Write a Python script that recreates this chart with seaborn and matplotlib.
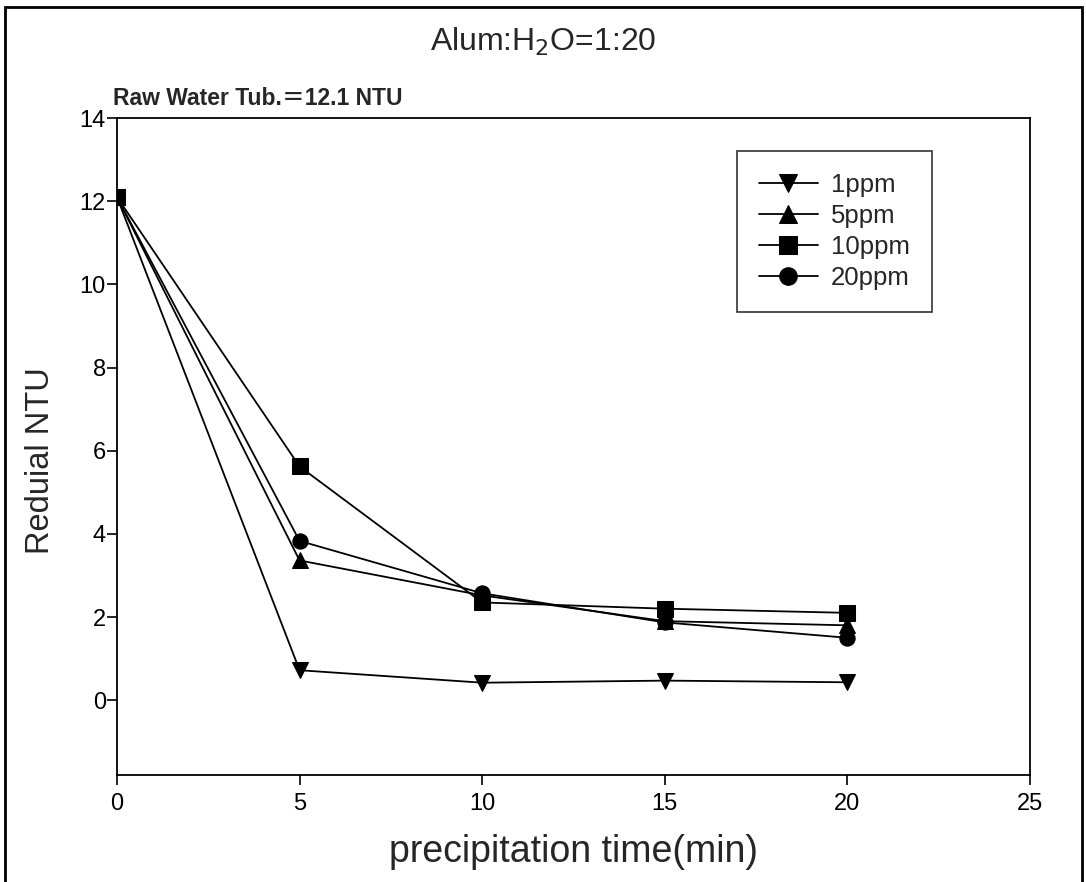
import pandas as pd
import numpy as np
import matplotlib.pyplot as plt
import matplotlib.patches as patches
import seaborn as sns

# values
times = [0, 5, 10, 15, 20]
doses = ['1ppm', '5ppm', '10ppm', '20ppm']
ntu_1ppm = [12.1, 0.72, 0.42, 0.47, 0.43]
ntu_5ppm = [12.1, 3.36, 2.52, 1.90, 1.80]
ntu_10ppm = [12.1, 5.62, 2.35, 2.20, 2.10]
ntu_20ppm = [12.1, 3.83, 2.57, 1.87, 1.50]

marker_map = {'1ppm': 'v', '5ppm': '^', '10ppm': 's', '20ppm': 'o'}


def build_frame():
    rows = []
    for dose, vals in zip(doses, [ntu_1ppm, ntu_5ppm, ntu_10ppm, ntu_20ppm]):
        for t, v in zip(times, vals):
            rows.append({'time': t, 'ntu': v, 'dose': dose})
    return pd.DataFrame(rows)


def main():
    df = build_frame()

    sns.set_style('ticks')
    plt.rcParams['font.family'] = ['Liberation Sans', 'DejaVu Sans']

    fig = plt.figure(figsize=(10.86, 8.82), dpi=100)
    ax = fig.add_axes([0.1077, 0.1213, 0.8407, 0.7449])

    sns.lineplot(data=df, x='time', y='ntu', hue='dose', style='dose',
                 hue_order=doses, style_order=doses,
                 palette=['black'] * 4, markers=marker_map, dashes=False,
                 markersize=11, markeredgecolor='black', linewidth=1.3,
                 ax=ax)

    ax.set_xlim(0, 25)
    ax.set_ylim(-1.8, 14)
    ax.set_xticks([0, 5, 10, 15, 20, 25])
    ax.set_yticks([0, 2, 4, 6, 8, 10, 12, 14])
    ax.tick_params(direction='out', length=7, width=1.2, labelsize=17, colors='black')
    ax.tick_params(axis='x', pad=6)
    ax.tick_params(axis='y', pad=1)
    for s in ax.spines.values():
        s.set_visible(True)
        s.set_linewidth(1.3)
        s.set_color('black')

    ax.set_xlabel('precipitation time(min)', fontsize=27, va='center')
    ax.set_ylabel('Reduial NTU', fontsize=23.5, va='center')
    ax.xaxis.set_label_coords(0.5, -0.117)
    ax.yaxis.set_label_coords(-0.084, 0.478)

    handles, labels = ax.get_legend_handles_labels()
    leg = ax.legend(handles, labels, loc='upper left', bbox_to_anchor=(0.679, 0.95),
                    fontsize=18.5, frameon=True, fancybox=False, edgecolor='black',
                    handlelength=2.3, borderpad=0.85, labelspacing=0.28,
                    handletextpad=0.5, borderaxespad=0, markerscale=1.15)
    leg.get_frame().set_linewidth(1.2)

    fig.text(0.5, 0.953, 'Alum:H$_2$O=1:20', ha='center', va='center', fontsize=23)
    ax.text(-0.004, 1.012, 'Raw Water Tub.\uff1d12.1 NTU', transform=ax.transAxes,
            ha='left', va='bottom', fontsize=16.5, fontweight='bold',
            family=['Liberation Sans', 'Noto Sans CJK JP'])

    # frame around the whole figure
    fig.patches.append(patches.Rectangle((0.005, -0.01), 0.991, 1.0015, transform=fig.transFigure,
                                         fill=False, edgecolor='black', linewidth=2))

    fig.savefig('out.png', dpi=100)


if __name__ == '__main__':
    main()
